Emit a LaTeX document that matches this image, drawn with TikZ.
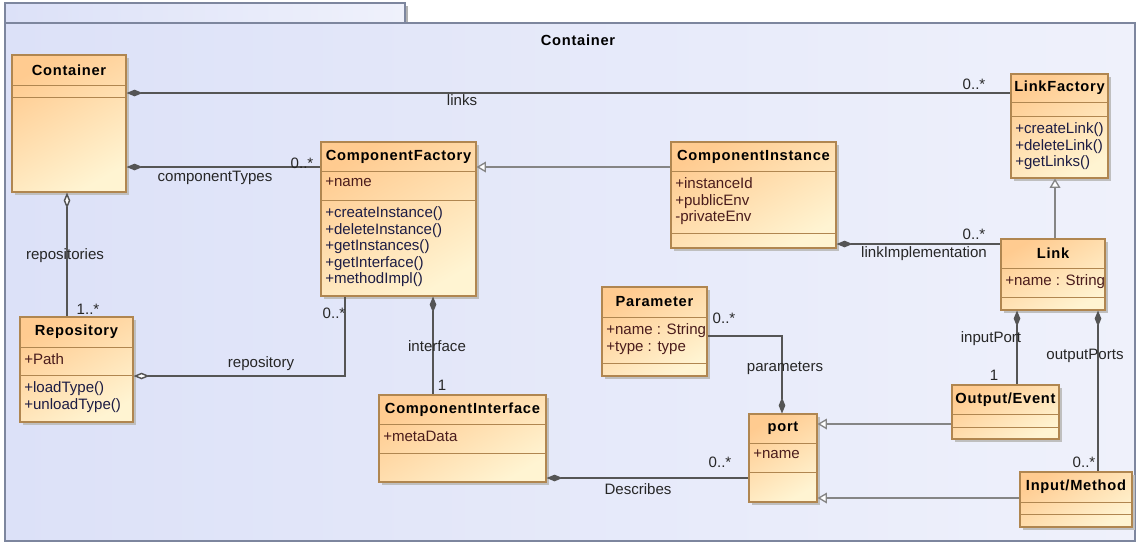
\documentclass[tikz,border=0pt]{standalone}
\usepackage{fontspec}
\setmainfont{Liberation Sans}
\newfontfamily\namefont[LetterSpace=5]{Liberation Sans}
\usetikzlibrary{arrows.meta, fit}
\definecolor{pkgleft}{HTML}{DCE1F8}
\definecolor{pkgright}{HTML}{EFF1FB}
\definecolor{pkgline}{HTML}{7D869E}
\definecolor{clstop}{HTML}{FFCB90}
\definecolor{clsbot}{HTML}{FFF4D2}
\definecolor{clsline}{HTML}{B08650}
\definecolor{attrtext}{HTML}{4A1C1C}
\definecolor{optext}{HTML}{1C1C44}
\definecolor{linec}{HTML}{555555}
\definecolor{genc}{HTML}{858585}
\newcommand{\memfont}{\fontsize{11.3}{12.4}\selectfont}
\newcommand{\clsfont}{\fontsize{11}{13}\namefont\bfseries}

% class box: name, x0, y0, x1, y1, first and second separator, title
\newcommand{\umlclass}[8]{%
  \fill[black!25] (#2+3,#3+3) rectangle (#4+3,#5+3);
  \coordinate (#1-nw) at (#2,#3);
  \coordinate (#1-se) at (#4,#5);
  \node[classbox, fit=(#1-nw)(#1-se)] (#1) {};
  \draw[sepline] (#2,#6) -- (#4,#6) (#2,#7) -- (#4,#7);
  \coordinate (#1-a) at (#2,#6);
  \coordinate (#1-o) at (#2,#7);
  \node[clsname] (#1-t) at ({(#2+#4)/2},{(#3+#6)/2}) {#8};
}

\begin{document}
\begin{tikzpicture}[
    x=0.75pt, y=-0.75pt,
    pkgbox/.style={draw=pkgline, line width=0.8pt, left color=pkgleft, right color=pkgright},
    classbox/.style={draw=clsline, line width=0.8pt, inner sep=0pt, top color=clstop, bottom color=clsbot, shading angle=30},
    sepline/.style={draw=clsline, line width=0.7pt},
    clsname/.style={font=\clsfont, inner sep=0pt},
    attrs/.style={anchor=north west, xshift=3pt, yshift=-5pt, inner sep=0pt, align=left, font=\memfont, text=attrtext},
    ops/.style={attrs, text=optext},
    lbl/.style={font=\memfont, text=black!85, inner sep=1pt},
    assoc/.style={draw=linec, line width=1.1pt},
    inherit/.style={draw=genc, line width=1pt, -{Triangle[open, fill=white, length=7pt, width=8pt]}},
    dmd/.tip={Diamond[length=12pt, width=5pt]},
    odmd/.tip={Diamond[open, fill=white, length=12pt, width=5pt]}
]
\useasboundingbox (0,0) rectangle (1138,544);

% package frame
\fill[black!30] (8,6) rectangle (408,23);
\draw[pkgbox] (5,3) rectangle (405,23);
\draw[pkgbox] (5,23) rectangle (1135,541);
\node[clsname] (pkg-title) at (578,40) {Container};

% classes
\umlclass{cont}{12}{55}{126}{192}{85}{97}{Container}
\umlclass{cf}{321}{142}{476}{296}{171}{200}{ComponentFactory}
\umlclass{ci}{671}{142}{836}{248}{171}{233}{ComponentInstance}
\umlclass{lf}{1011}{74}{1108}{178}{102}{116}{LinkFactory}
\umlclass{link}{1001}{239}{1105}{310}{268}{297}{Link}
\umlclass{rep}{20}{317}{133}{422}{347}{375}{Repository}
\umlclass{ciface}{379}{395}{546}{482}{424}{453}{ComponentInterface}
\umlclass{par}{602}{287}{707}{376}{317}{363}{Parameter}
\umlclass{port}{749}{414}{817}{502}{443}{472}{port}
\umlclass{oe}{952}{385}{1059}{439}{414}{427}{Output/Event}
\umlclass{im}{1020}{472}{1132}{527}{502}{514}{Input/Method}

\node[attrs] (cf-attr) at (cf-a) {+name};
\node[ops] (cf-ops) at (cf-o) {+createInstance()\\+deleteInstance()\\+getInstances()\\+getInterface()\\+methodImpl()};
\node[attrs] (ci-attr) at (ci-a) {+instanceId\\+publicEnv\\-privateEnv};
\node[ops] (lf-ops) at (lf-o) {+createLink()\\+deleteLink()\\+getLinks()};
\node[attrs] (link-attr) at (link-a) {+name : String};
\node[attrs] (rep-attr) at (rep-a) {+Path};
\node[ops] (rep-ops) at (rep-o) {+loadType()\\+unloadType()};
\node[attrs] (ciface-attr) at (ciface-a) {+metaData};
\node[attrs] (par-attr) at (par-a) {+name : String\\+type : type};
\node[attrs] (port-attr) at (port-a) {+name};

% connectors
\draw[assoc, {dmd}-] (cont.east |- 0,93) -- (lf.west |- 0,93);
\draw[assoc, {dmd}-] (cont.east |- 0,167) -- (cf.west |- 0,167);
\draw[assoc, {odmd}-] (cont.south -| 67,0) -- (rep.north -| 67,0);
\draw[assoc, {odmd}-] (rep.east |- 0,376) -| (cf.south -| 345,0);
\draw[assoc, {dmd}-] (cf.south -| 433,0) -- (ciface.north -| 433,0);
\draw[inherit] (ci.west |- 0,167) -- (cf.east |- 0,167);
\draw[assoc, {dmd}-] (ci.east |- 0,244) -- (link.west |- 0,244);
\draw[inherit] (link.north -| 1055,0) -- (lf.south -| 1055,0);
\draw[assoc, {dmd}-] (link.south -| 1017,0) -- (oe.north -| 1017,0);
\draw[assoc, {dmd}-] (link.south -| 1098,0) -- (im.north -| 1098,0);
\draw[assoc, -{dmd}] (par.east |- 0,336) -| (port.north -| 782,0);
\draw[inherit] (oe.west |- 0,424) -- (port.east |- 0,424);
\draw[inherit] (im.west |- 0,498) -- (port.east |- 0,498);
\draw[assoc, {dmd}-] (ciface.east |- 0,478) -- (port.west |- 0,478);

% connector labels
\node[lbl] (l-links) at (462,100) {links};
\node[lbl] (m-links) at (974,84) {0..*};
\node[lbl] (l-types) at (215,178) {componentTypes};
\node[lbl] (m-types) at (302,163) {0..*};
\node[lbl] (l-repos) at (65,256) {repositories};
\node[lbl] (m-repos) at (88,309) {1..*};
\node[lbl] (l-repo) at (261,364) {repository};
\node[lbl] (m-repo) at (334,313) {0..*};
\node[lbl] (l-iface) at (437,346) {interface};
\node[lbl] (m-iface) at (442,385) {1};
\node[lbl] (l-impl) at (924,254) {linkImplementation};
\node[lbl] (m-impl) at (974,234) {0..*};
\node[lbl] (l-in) at (991,339) {inputPort};
\node[lbl] (m-in) at (994,375) {1};
\node[lbl] (l-out) at (1085,356) {outputPorts};
\node[lbl] (m-out) at (1084,462) {0..*};
\node[lbl] (l-params) at (785,368) {parameters};
\node[lbl] (m-params) at (724,318) {0..*};
\node[lbl] (l-desc) at (638,489) {Describes};
\node[lbl] (m-desc) at (720,462) {0..*};
\end{tikzpicture}
\end{document}
